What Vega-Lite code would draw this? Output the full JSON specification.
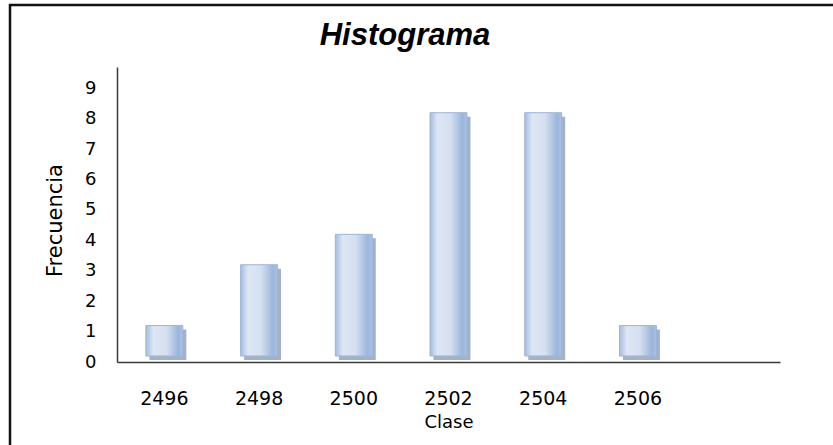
{
  "$schema": "https://vega.github.io/schema/vega-lite/v6.json",
  "width": 840,
  "height": 450,
  "autosize": {"type": "none"},
  "padding": {"left": 10, "top": 5, "right": 0, "bottom": 0},
  "background": "white",
  "config": {"view": {"stroke": "#111111", "strokeWidth": 2.5}},
  "title": {
    "text": "Histograma",
    "font": "Liberation Sans",
    "fontSize": 31,
    "fontWeight": "bold",
    "fontStyle": "italic",
    "color": "#000000",
    "anchor": "middle",
    "frame": "group",
    "baseline": "alphabetic",
    "dx": -25,
    "dy": 75
  },
  "data": {
    "values": [
      {"clase": "2496", "frecuencia": 1},
      {"clase": "2498", "frecuencia": 3},
      {"clase": "2500", "frecuencia": 4},
      {"clase": "2502", "frecuencia": 8},
      {"clase": "2504", "frecuencia": 8},
      {"clase": "2506", "frecuencia": 1}
    ]
  },
  "encoding": {
    "x": {
      "field": "clase",
      "type": "nominal",
      "sort": null,
      "scale": {
        "domain": ["2496", "2498", "2500", "2502", "2504", "2506", " "],
        "range": [107, 770],
        "paddingInner": 0,
        "paddingOuter": 0
      },
      "axis": {
        "orient": "bottom",
        "offset": -93,
        "title": "Clase",
        "labelAngle": 0,
        "ticks": false,
        "tickSize": 0,
        "domainColor": "#3a3a3a",
        "domainWidth": 1.5,
        "labelPadding": 27,
        "labelFont": "DejaVu Sans",
        "labelFontSize": 19,
        "labelColor": "#000000",
        "titleFont": "DejaVu Sans",
        "titleFontSize": 18,
        "titleFontWeight": "normal",
        "titleColor": "#000000",
        "titlePadding": 5,
        "zindex": 1
      }
    },
    "y": {
      "field": "frecuencia",
      "type": "quantitative",
      "scale": {"domain": [0, 9.7], "range": [357, 62], "nice": false, "zero": true},
      "axis": {
        "orient": "left",
        "offset": -107,
        "values": [0, 1, 2, 3, 4, 5, 6, 7, 8, 9],
        "grid": false,
        "ticks": false,
        "tickSize": 0,
        "domainColor": "#3a3a3a",
        "domainWidth": 1.5,
        "labelPadding": 21,
        "labelFont": "DejaVu Sans",
        "labelFontSize": 18,
        "labelColor": "#000000",
        "title": "Frecuencia",
        "titleFont": "DejaVu Sans",
        "titleFontSize": 21,
        "titleFontWeight": "normal",
        "titleColor": "#000000",
        "titlePadding": 19,
        "titleY": 215,
        "zindex": 1
      }
    }
  },
  "layer": [
    {
      "mark": {
        "type": "bar",
        "width": {"band": 0.39},
        "color": "#9da9bb",
        "opacity": 0.9,
        "xOffset": 3.5,
        "yOffset": -2,
        "y2Offset": 4.5
      }
    },
    {
      "mark": {
        "type": "bar",
        "width": {"band": 0.39},
        "fill": {
          "gradient": "linear",
          "x1": 0, "y1": 0, "x2": 1, "y2": 0,
          "stops": [
            {"offset": 0, "color": "#a3bde1"},
            {"offset": 0.2, "color": "#dde6f3"},
            {"offset": 0.55, "color": "#d5e0f0"},
            {"offset": 0.88, "color": "#9ab5dc"},
            {"offset": 1, "color": "#adc3e4"}
          ]
        },
        "stroke": "#9ab5dc",
        "strokeWidth": 1,
        "yOffset": -6,
        "y2Offset": -2
      }
    }
  ]
}
